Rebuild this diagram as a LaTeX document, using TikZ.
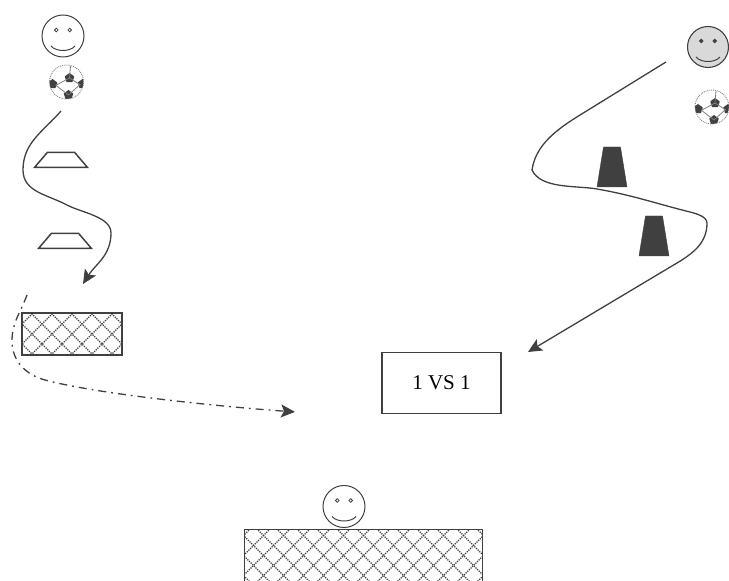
\documentclass[tikz,border=0pt]{standalone}
\usepackage{fontspec}
\setmainfont{Liberation Serif}
\usetikzlibrary{arrows.meta,shapes.geometric}
\definecolor{inkgray}{gray}{0.25}
\newcommand{\drawnet}{
    \foreach \i in {-16,...,16} {
        \draw[densely dotted, line width=1.3pt, inkgray]
            ([xshift=\i*20pt-200pt, yshift=-200pt]path picture bounding box.center) -- ++(400pt,400pt);
        \draw[densely dotted, line width=1.3pt, inkgray]
            ([xshift=\i*20pt+200pt, yshift=-200pt]path picture bounding box.center) -- ++(-400pt,400pt);
    }
}
\newcommand{\drawface}[1]{
    \fill[#1, draw=inkgray, line width=.8pt] ([shift={(-6.7pt,6pt)}]path picture bounding box.center) circle (1.8pt);
    \fill[#1, draw=inkgray, line width=.8pt] ([shift={(6.7pt,6pt)}]path picture bounding box.center) circle (1.8pt);
    \draw[inkgray, line width=1pt] ([shift={(-12pt,-10pt)}]path picture bounding box.center)
        .. controls +(5pt,-6pt) and +(-5pt,-6pt) .. ++(24pt,0);
}
\newcommand{\drawpatch}[2]{
    \fill[inkgray] ([shift={(#1pt,#2pt)}]path picture bounding box.center)
        +(90:5pt) -- +(162:5pt) -- +(234:5pt) -- +(306:5pt) -- +(18:5pt) -- cycle;
}
\tikzset{
    face/.style={circle, draw=inkgray, line width=1pt, minimum size=42pt, inner sep=0pt,
        path picture={\drawface{white}}},
    grayface/.style={circle, draw=inkgray, line width=1.1pt, minimum size=41pt, inner sep=0pt,
        fill=gray!30, path picture={\drawface{inkgray}}},
    ball/.style={circle, draw=gray, densely dotted, line width=.9pt, minimum size=34pt, inner sep=0pt,
        path picture={
            \drawpatch{3}{4}\drawpatch{2}{-13}\drawpatch{-14}{-2}\drawpatch{16}{-2}
            \draw[gray, solid, line width=.8pt] ([shift={(3pt,4pt)}]path picture bounding box.center) -- +(-13pt,-7pt)
                ([shift={(3pt,4pt)}]path picture bounding box.center) -- +(11pt,-7pt)
                ([shift={(2pt,-13pt)}]path picture bounding box.center) -- +(-13pt,10pt)
                ([shift={(2pt,-13pt)}]path picture bounding box.center) -- +(11pt,10pt)
                ([shift={(3pt,4pt)}]path picture bounding box.center) -- +(1pt,12pt);
        }},
    cone/.style={trapezium, draw=inkgray, line width=1.5pt, inner sep=0pt, trapezium stretches=true,
        text width=1pt, text height=1pt, minimum width=53pt, minimum height=15pt, trapezium angle=65},
    darkcone/.style={trapezium, draw=inkgray, fill=inkgray, inner sep=0pt, trapezium stretches=true,
        text width=1pt, text height=1pt, minimum width=30pt, minimum height=40pt, trapezium angle=69},
    goal/.style={rectangle, inner sep=0pt, path picture={\drawnet}},
    label/.style={rectangle, draw=inkgray, line width=1.5pt, inner sep=0pt,
        minimum width=119pt, minimum height=61pt, font=\fontsize{21}{23}\selectfont},
    run/.style={-{Stealth[length=14pt,width=13pt,inset=3pt]}, inkgray, line width=1.3pt},
    rundash/.style={-{Stealth[length=14pt,width=13pt,inset=3pt,sep=1pt]}, inkgray, line width=1.3pt,
        dash pattern=on 8pt off 5pt on 1.8pt off 5pt}
}
\begin{document}
\begin{tikzpicture}[x=1pt,y=1pt]
    \useasboundingbox (0,0) rectangle (729,581);
    \node[face] (attacker) at (63,545) {};
    \node[ball] (ballleft) at (66.5,499) {};
    \node[cone] (coneA) at (61,421) {};
    \node[cone] (coneB) at (65,340) {};
    \node[goal, minimum width=100pt, minimum height=42pt] (smallgoal) at (72,247) {};
    \draw[inkgray, line width=1.5pt] (smallgoal.south west) rectangle (smallgoal.north east);

    \node[grayface] (defender) at (708,534) {};
    \node[ball] (ballright) at (712,474) {};
    \node[darkcone] (coneC) at (612,414) {};
    \node[darkcone] (coneD) at (654,345) {};
    \node[label] (vs) at (441.5,198) {1 VS 1\hspace{13pt}};

    \node[goal, minimum width=237pt, minimum height=51pt] (biggoal) at (363.5,25.5) {};
    \draw[inkgray, line width=1.2pt] (biggoal.south west) |- (biggoal.north east) -- (biggoal.south east);
    \node[face, anchor=south] (keeper) at (344,53) {};

    \coordinate (leftstart) at (61,470);
    \coordinate (leftturn) at (23,411);
    \coordinate (leftmid) at (67,376);
    \coordinate (leftback) at (111,348);
    \coordinate (lefttip) at (83,297);
    \draw[run] (leftstart) to[out=229,in=90] (leftturn)
        to[out=270,in=152] (leftmid)
        to[out=-28,in=90,looseness=.8] (leftback)
        to[out=270,in=58] (lefttip);

    \coordinate (rightstart) at (666,519);
    \coordinate (rightbend) at (593,474);
    \coordinate (rightturn) at (532,411);
    \coordinate (rightcross) at (597,392);
    \coordinate (rightmid) at (690,369);
    \coordinate (rightback) at (707,358);
    \coordinate (rightdown) at (677,318);
    \coordinate (righttip) at (528,229);
    \draw[run] (rightstart) -- (rightbend)
        to[out=212,in=82,looseness=.9] (rightturn)
        to[out=-65,in=170,looseness=.8] (rightcross)
        to[out=-10,in=166] (rightmid)
        to[out=-14,in=90,looseness=.8] (rightback)
        to[out=270,in=31] (rightdown)
        -- (righttip);

    \coordinate (passstart) at (27,286);
    \coordinate (passturn) at (12,240);
    \coordinate (passmid) at (45,201);
    \coordinate (passtip) at (296,169);
    \draw[rundash] (passstart) to[out=250,in=90] (passturn)
        to[out=270,in=165] (passmid)
        to[out=-15,in=176,looseness=.6] (passtip);
\end{tikzpicture}
\end{document}
